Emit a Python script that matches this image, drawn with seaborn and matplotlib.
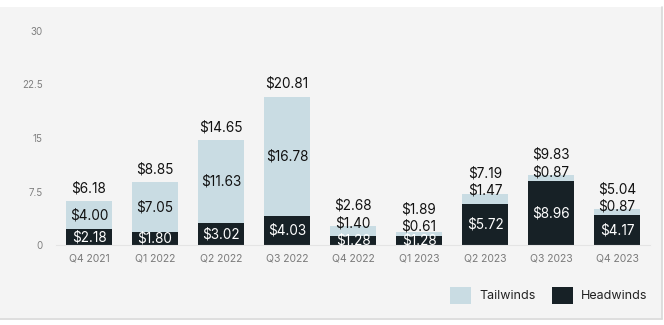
import numpy as np
import pandas as pd
import matplotlib
matplotlib.use("Agg")
import matplotlib.pyplot as plt
from matplotlib.patches import Patch, Rectangle
from matplotlib.lines import Line2D
import seaborn as sns

quarters = ["Q4 2021", "Q1 2022", "Q2 2022", "Q3 2022", "Q4 2022",
            "Q1 2023", "Q2 2023", "Q3 2023", "Q4 2023"]
headwinds = [2.18, 1.80, 3.02, 4.03, 1.28, 1.28, 5.72, 8.96, 4.17]
tailwinds = [4.00, 7.05, 11.63, 16.78, 1.40, 0.61, 1.47, 0.87, 0.87]
totals = [6.18, 8.85, 14.65, 20.81, 2.68, 1.89, 7.19, 9.83, 5.04]
yticks = [0, 7.5, 15, 22.5, 30]
ytick_labels = ["0", "7.5", "15", "22.5", "30"]

TAIL = "#c9dce3"
HEAD = "#172126"
PANEL = "#f4f4f4"

sns.set_theme(style="white")
plt.rcParams["font.family"] = ["Inter", "DejaVu Sans"]

df = pd.DataFrame({"quarter": quarters, "head": headwinds,
                   "tail": tailwinds, "total": totals})

fig = plt.figure(figsize=(6.64, 3.25), dpi=100, facecolor="white")
# panel background
fig.patches.append(Rectangle((0, 1 - 318 / 325), 662 / 664, 311 / 325,
                             transform=fig.transFigure, facecolor=PANEL,
                             edgecolor="none", zorder=-10))
fig.lines.append(Line2D([0, 662 / 664], [1 - 318.5 / 325] * 2,
                        transform=fig.transFigure, color="#d8d8d8", lw=1.2))
fig.lines.append(Line2D([662 / 664] * 2, [1 - 318.5 / 325, 1 - 7 / 325],
                        transform=fig.transFigure, color="#d8d8d8", lw=1.2))

ax = fig.add_axes([56 / 664, 1 - 245 / 325, 594 / 664, 214 / 325])
ax.set_facecolor("none")

sns.barplot(data=df, x="quarter", y="total", color=TAIL, width=0.71,
            saturation=1, ax=ax, linewidth=0)
sns.barplot(data=df, x="quarter", y="head", color=HEAD, width=0.71,
            saturation=1, ax=ax, linewidth=0)

ax.set_ylim(0, 30)
ax.set_xlim(-0.5, len(quarters) - 0.5)
ax.set_yticks(yticks)
ax.set_yticklabels(ytick_labels, fontsize=7, color="#808080")
ax.set_xlabel("")
ax.set_ylabel("")
ax.tick_params(axis="x", labelsize=7.5, colors="#7a7a7a", length=0, pad=6)
ax.tick_params(axis="y", length=0, pad=9.5)
for s in ["top", "right", "left"]:
    ax.spines[s].set_visible(False)
ax.spines["bottom"].set_color("#e4e4e4")
ax.spines["bottom"].set_linewidth(0.8)

fs = 9.8
for i, (h, t, tot) in enumerate(zip(headwinds, tailwinds, totals)):
    head_y = h / 2
    tail_y = h + t / 2
    if t < 2.5:
        tail_y = max(tail_y, head_y + 2.0, tot + 0.4)
    tot_y = max(tot + 1.8, tail_y + 2.4)
    ax.text(i, head_y, f"${h:.2f}", ha="center", va="center",
            color="white", fontsize=fs)
    ax.text(i, tail_y, f"${t:.2f}", ha="center", va="center",
            color="#111111", fontsize=fs)
    ax.text(i, tot_y, f"${tot:.2f}", ha="center", va="center",
            color="#111111", fontsize=fs)

handles = [Patch(facecolor=TAIL, edgecolor="none", label="Tailwinds"),
           Patch(facecolor=HEAD, edgecolor="none", label="Headwinds")]
fig.legend(handles=handles, loc="center", bbox_to_anchor=(0.826, 0.091),
           ncol=2, frameon=False, fontsize=9, handlelength=1.7,
           handleheight=1.7, handletextpad=0.65, columnspacing=1.3,
           labelcolor="#222222")

fig.savefig("out.png", dpi=100, facecolor="white")
